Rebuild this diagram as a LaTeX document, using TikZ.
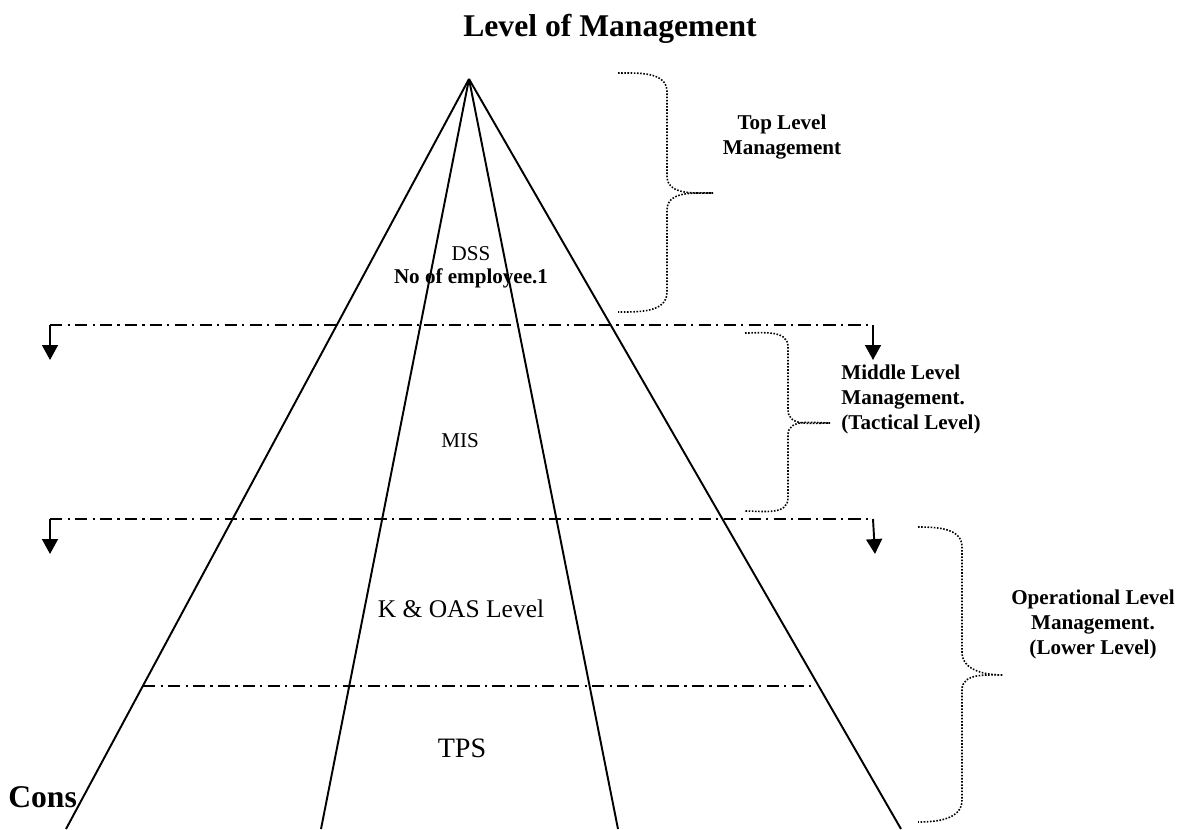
\documentclass[tikz,border=0pt]{standalone}
\usepackage{fontspec}
\setmainfont{Liberation Serif}
\usetikzlibrary{arrows.meta}

\begin{document}
\begin{tikzpicture}[x=0.02cm, y=-0.02cm,
        edge/.style={line width=1.1pt},
        level/.style={line width=0.9pt, dash pattern=on 7pt off 3pt on 1.2pt off 3pt},
        drop/.style={line width=1.1pt, -{Triangle[width=9pt,length=8.5pt]}},
        side/.style={line width=0.9pt, dash pattern=on 0.9pt off 0.9pt},
        txt/.style={inner sep=0pt, font=\fontsize{12}{14}\selectfont},
        lbl/.style={txt, font=\fontsize{12}{14}\selectfont\bfseries}]
        \useasboundingbox (0,0) rectangle (1187,829);

        % Nodes
        \node (title) [inner sep=0pt, anchor=base, font=\fontsize{18}{22}\selectfont\bfseries] at (610,36) {Level of Management};
        \node (dss) [txt, anchor=north, align=center, font=\fontsize{12}{13}\selectfont] at (471,246) {DSS\\\textbf{No of employee.1}};
        \node (mis) [txt, anchor=base] at (460,447) {MIS};
        \node (koas) [txt, anchor=base, font=\fontsize{14.5}{17}\selectfont] at (461,617) {K \& OAS Level};
        \node (tps) [txt, anchor=base, font=\fontsize{16}{19}\selectfont] at (462,757) {TPS};
        \node (cons) [txt, anchor=base west, font=\fontsize{18}{22}\selectfont\bfseries] at (8,807) {Cons};
        \node (top) [lbl, anchor=north, align=center] at (782,115) {Top Level\\Management};
        \node (middle) [lbl, anchor=north west, align=left] at (841,365) {Middle Level\\Management.\\(Tactical Level)};
        \node (lower) [lbl, anchor=north, align=center] at (1093,590) {Operational Level\\Management.\\(Lower Level)};

        % Pyramid
        \coordinate (apex) at (469,79);
        \coordinate (outerleft) at (66,829);
        \coordinate (innerleft) at (321,829);
        \coordinate (innerright) at (618,829);
        \coordinate (outerright) at (901,829);
        \foreach \b in {outerleft,innerleft,innerright,outerright}
            \draw[edge] (apex) -- (\b);

        % Level lines
        \coordinate (upleft) at (50,325);
        \coordinate (upright) at (873,325);
        \coordinate (lowleft) at (50,519);
        \coordinate (lowright) at (873,519);
        \coordinate (baseleft) at (143,686);
        \coordinate (baseright) at (815,686);
        \draw[level] (upleft) -- (upright);
        \draw[level] (lowleft) -- (lowright);
        \draw[level] (baseleft) -- (baseright);

        % Arrows
        \coordinate (upleftend) at (50,360);
        \coordinate (uprightend) at (873,360);
        \coordinate (lowleftend) at (50,554);
        \coordinate (lowrightend) at (875,554);
        \draw[drop] (upleft) -- (upleftend);
        \draw[drop] (upright) -- (uprightend);
        \draw[drop] (lowleft) -- (lowleftend);
        \draw[drop] (lowright) -- (lowrightend);

        % Braces
        \draw[side] (618,73) to[out=0,in=90] (667,92) -- (667,176) to[out=-90,in=180] (713,193)
            to[out=180,in=90] (667,210) -- (667,292) to[out=-90,in=0] (618,312);
        \draw[side] (745,333) to[out=0,in=90] (788,347) -- (788,410) to[out=-90,in=180] (830,423)
            to[out=180,in=90] (788,435) -- (788,498) to[out=-90,in=0] (745,511);
        \draw[side] (918,527) to[out=0,in=90] (962,547) -- (962,652) to[out=-90,in=180] (1003,675)
            to[out=180,in=90] (962,690) -- (962,800) to[out=-90,in=0] (918,822);
\end{tikzpicture}
\end{document}
